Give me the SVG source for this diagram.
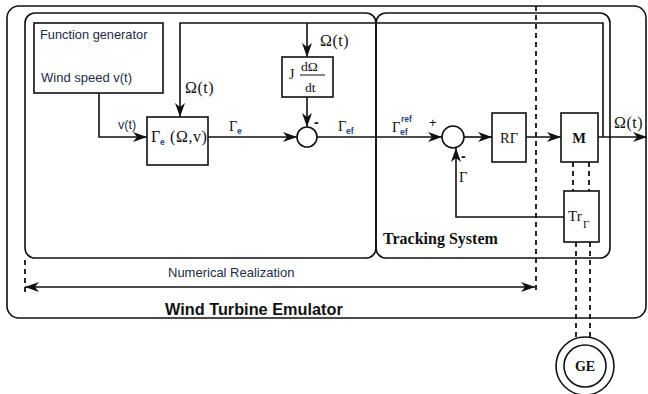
<svg xmlns="http://www.w3.org/2000/svg" width="648" height="394" viewBox="0 0 648 394">
<defs>
<style>
.box{fill:none;stroke:#111;stroke-width:1.6}
.ln{fill:none;stroke:#111;stroke-width:1.6}
.arr{marker-end:url(#ah)}
.dash{fill:none;stroke:#111;stroke-width:1.8;stroke-dasharray:5,4}
.serif{font-family:"Liberation Serif","Times New Roman",serif;fill:#111}
.sans{font-family:"Liberation Sans",Arial,sans-serif;fill:#1c2b47}
.sub{font-family:"Liberation Sans",Arial,sans-serif;fill:#2a4580;font-weight:bold}
</style>
<marker id="ah" viewBox="0 0 14 10" refX="14" refY="5" markerWidth="14" markerHeight="10" markerUnits="userSpaceOnUse" orient="auto-start-reverse">
<path d="M0,0 L14,5 L0,10 L4,5 Z" fill="#111"/>
</marker>
</defs>
<rect width="648" height="394" fill="#fff"/>

<g id="wind-turbine-emulator">
<rect class="box" x="7" y="6" width="639" height="312" rx="12"/>
<text class="sans" x="165" y="315" font-size="16.3" font-weight="bold" style="fill:#111">Wind Turbine Emulator</text>
</g>

<g id="numerical-box">
<rect class="box" x="25" y="13" width="351" height="245" rx="10"/>
</g>

<g id="tracking-system">
<rect class="box" x="376" y="13" width="234" height="245" rx="10"/>
<text class="serif" x="383" y="244" font-size="16" font-weight="bold">Tracking System</text>
</g>

<g id="function-generator">
<rect class="box" x="34" y="23" width="129" height="70"/>
<text class="sans" x="40" y="39" font-size="12.8">Function generator</text>
<text class="sans" x="41" y="82" font-size="13">Wind speed v(t)</text>
</g>

<g id="gamma-e-block">
<rect class="box" x="147" y="117" width="61" height="48"/>
<text class="serif" x="151" y="142" font-size="16">Γ</text>
<text class="sub" x="160" y="145" font-size="8.5">e</text>
<text class="serif" x="170" y="142" font-size="16" letter-spacing="0.6">(Ω,v)</text>
</g>

<g id="inertia-block">
<rect class="box" x="282" y="57" width="51" height="40"/>
<text class="serif" x="289" y="79" font-size="14">J</text>
<text class="serif" x="301" y="71" font-size="13.5">dΩ</text>
<line x1="300" y1="75" x2="325" y2="75" stroke="#111" stroke-width="1"/>
<text class="serif" x="305" y="92" font-size="13.5">dt</text>
</g>

<g id="sum1">
<circle class="box" cx="307" cy="137" r="10"/>
<text class="sans" x="314" y="127" font-size="14" font-weight="bold" style="fill:#111">-</text>
</g>

<g id="sum2">
<circle class="box" cx="453" cy="137" r="11"/>
<text class="sans" x="429" y="127" font-size="13" style="fill:#111">+</text>
<text class="sans" x="461" y="161" font-size="14" font-weight="bold" style="fill:#111">-</text>
</g>

<g id="r-gamma">
<rect class="box" x="492" y="113" width="34" height="49"/>
<text class="serif" x="509" y="143" font-size="14.5" text-anchor="middle">RΓ</text>
</g>

<g id="machine-m">
<rect class="box" x="561" y="113" width="37" height="49"/>
<text class="serif" x="579" y="143" font-size="14.5" font-weight="bold" text-anchor="middle">M</text>
</g>

<g id="torque-transducer">
<rect class="box" x="564" y="191" width="35" height="51"/>
<text class="serif" x="568" y="221" font-size="15">Tr</text>
<text class="serif" x="583" y="228" font-size="11">Γ</text>
</g>

<g id="generator-ge">
<circle class="box" cx="585" cy="366" r="29"/>
<circle class="box" cx="585" cy="366" r="21"/>
<text class="serif" x="585" y="371" font-size="14" font-weight="bold" text-anchor="middle">GE</text>
</g>

<g id="connectors">
<path class="ln arr" d="M99,93 V137 H147"/>
<path class="ln arr" d="M603,137 V23 H180 V117"/>
<path class="ln arr" d="M307,23 V57"/>
<path class="ln arr" d="M307,97 V127"/>
<path class="ln arr" d="M208,137 H297"/>
<path class="ln arr" d="M317,137 H442"/>
<path class="ln arr" d="M464,137 H492"/>
<path class="ln arr" d="M526,137 H561"/>
<path class="ln arr" d="M598,137 H647"/>
<path class="ln arr" d="M564,217 H456 V148"/>
<path class="dash" d="M573,162 V191 M589,162 V191"/>
<path class="dash" d="M576,242 V338 M590,242 V338"/>
<path class="dash" d="M536,6 V292"/>
<path class="dash" d="M25,260 V292"/>
<path class="ln" d="M25,287 H535" marker-start="url(#ah)" marker-end="url(#ah)"/>
</g>

<g id="labels">
<text class="sans" x="118" y="129" font-size="12.5">v(t)</text>
<text class="serif" x="185" y="93" font-size="16" letter-spacing="0.5">Ω(t)</text>
<text class="serif" x="320" y="46" font-size="16" letter-spacing="0.5">Ω(t)</text>
<text class="serif" x="614" y="128" font-size="16" letter-spacing="0.5">Ω(t)</text>
<text class="serif" x="229" y="131" font-size="14.5">Γ</text>
<text class="sub" x="237" y="134" font-size="8.5">e</text>
<text class="serif" x="338" y="131" font-size="14.5">Γ</text>
<text class="sub" x="346" y="134" font-size="8.5">ef</text>
<text class="serif" x="392" y="132" font-size="14.5">Γ</text>
<text class="sub" x="400" y="135" font-size="8.5">ef</text>
<text class="sub" x="401" y="122" font-size="8.5">ref</text>
<text class="serif" x="459" y="182" font-size="14.5">Γ</text>
<text class="sans" x="168" y="277" font-size="13">Numerical Realization</text>
</g>
</svg>
